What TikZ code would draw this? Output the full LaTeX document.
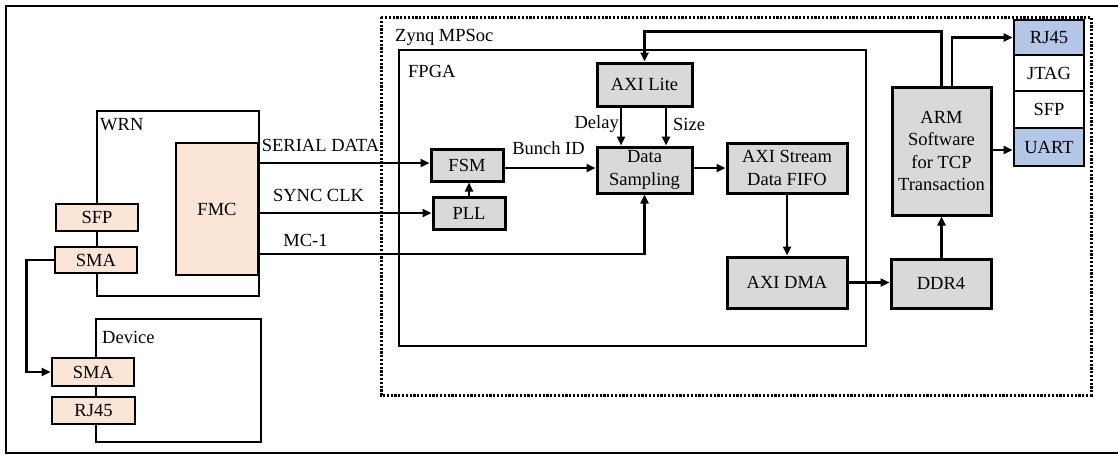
\documentclass[tikz,border=0pt]{standalone}
\usepackage{fontspec}
\setmainfont{Liberation Serif}
\usetikzlibrary{arrows.meta}
\definecolor{boxgray}{RGB}{217,217,217}
\definecolor{peach}{RGB}{251,229,214}
\definecolor{lblue}{RGB}{180,199,231}
\tikzset{
  every node/.style={font=\fontsize{18.5}{22.5}\selectfont, inner sep=0pt},
  gbox/.style={draw, fill=boxgray, line width=3pt, align=center},
  pbox/.style={draw, fill=peach, line width=2.8pt, align=center},
  bbox/.style={draw, fill=lblue, line width=2.8pt, align=center},
  wbox/.style={draw, fill=white, line width=2.8pt, align=center},
  framebox/.style={draw, line width=2.6pt},
  conn/.style={line width=2.5pt},
  arr/.style={conn, -{Triangle[length=9pt,width=8pt]}}
}
\begin{document}
\begin{tikzpicture}[x=1pt,y=-1pt]
\useasboundingbox (0,0) rectangle (1118,456);
% outer frame (right edge outside the picture)
\draw[line width=2.4pt] (1120,6) -- (6,6) -- (6,453) -- (1120,453);
% Zynq dotted box
\draw[line width=3pt, dash pattern=on 2.2pt off 1.6pt] (381,17) rectangle (1091,395);
\node[anchor=west] (zynqlbl) at (395,37) {Zynq MPSoc};
% FPGA box
\node[framebox, minimum width=467, minimum height=296] (fpga) at (632.5,198) {};
\node[anchor=west] (fpgalbl) at (408,71) {FPGA};
% WRN
\node[framebox, minimum width=162, minimum height=185] (wrn) at (178,203.5) {};
\node[anchor=west] (wrnlbl) at (100,125) {WRN};
\node[pbox, minimum width=82, minimum height=132] (fmc) at (217,209) {FMC};
\node[pbox, minimum width=82, minimum height=27] (sfpl) at (97,217.5) {SFP};
\node[pbox, minimum width=82, minimum height=26] (smal) at (96,260) {SMA};
% Device
\node[framebox, minimum width=165, minimum height=123] (dev) at (178.5,380.5) {};
\node[anchor=west] (devlbl) at (102,337) {Device};
\node[pbox, minimum width=82, minimum height=28] (smad) at (93,372) {SMA};
\node[pbox, minimum width=83, minimum height=27] (rjd) at (93.5,410.5) {RJ45};
% FPGA blocks
\node[gbox, minimum width=95, minimum height=43] (axil) at (644.5,84.5) {AXI Lite};
\node[gbox, minimum width=95, minimum height=46] (ds) at (644.5,170) {Data\\Sampling};
\node[gbox, minimum width=72, minimum height=32] (fsm) at (467,165) {FSM};
\node[gbox, minimum width=72, minimum height=32] (pll) at (469,213) {PLL};
\node[gbox, minimum width=120, minimum height=50] (fifo) at (787,168) {AXI Stream\\Data FIFO};
\node[gbox, minimum width=120, minimum height=51] (dma) at (787,282.5) {AXI DMA};
% PS side
\node[gbox, minimum width=100, minimum height=49] (ddr) at (941,283.5) {DDR4};
\node[gbox, minimum width=99, minimum height=128] (arm) at (941.5,151) {ARM\\Software\\for TCP\\Transaction};
\node[bbox, minimum width=70, minimum height=35] (rjr) at (1049,37.5) {RJ45};
\node[wbox, minimum width=70, minimum height=36] (jtag) at (1049,73) {JTAG};
\node[wbox, minimum width=70, minimum height=37] (sfpr) at (1049,109.5) {SFP};
\node[bbox, minimum width=70, minimum height=38] (uart) at (1049,147) {UART};
% connectors
\draw[arr] (fmc.east |- 0,163) -- (fsm.west |- 0,163);
\node (sdlbl) at (320.5,145) {SERIAL DATA};
\draw[arr] (fmc.east |- pll.west) -- (pll.west);
\node (sclbl) at (318.5,195) {SYNC CLK};
\draw[arr] (fmc.east |- 0,254) -| (ds.south);
\node (mclbl) at (305.5,240) {MC-1};
\draw[arr] (pll.north) -- (pll.north |- fsm.south);
\draw[arr] (fsm.east |- 0,168) -- (ds.west |- 0,168);
\node (bidlbl) at (548.5,148) {Bunch ID};
\draw[arr] ([xshift=-23.5]axil.south) -- ([xshift=-23.5]ds.north);
\node[anchor=east] (dlylbl) at (619,124) {Delay};
\draw[arr] ([xshift=21.5]axil.south) -- ([xshift=21.5]ds.north);
\node[anchor=west] (szlbl) at (673,124) {Size};
\draw[arr] (ds.east |- 0,168) -- (fifo.west |- 0,168);
\draw[arr] (fifo.south) -- (dma.north);
\draw[arr] (dma.east) -- (dma.east -| ddr.west);
\draw[arr] (ddr.north -| arm.south) -- (arm.south);
\draw[arr] (arm.north) -- ++(0,-54) -| (axil.north);
\draw[arr] ([xshift=10.5]arm.north) |- (rjr.west);
\draw[arr] (arm.east |- 0,150) -- (uart.west |- 0,150);
\draw[arr] (smal.west) -- ++(-27,0) |- (smad.west);
\end{tikzpicture}
\end{document}
